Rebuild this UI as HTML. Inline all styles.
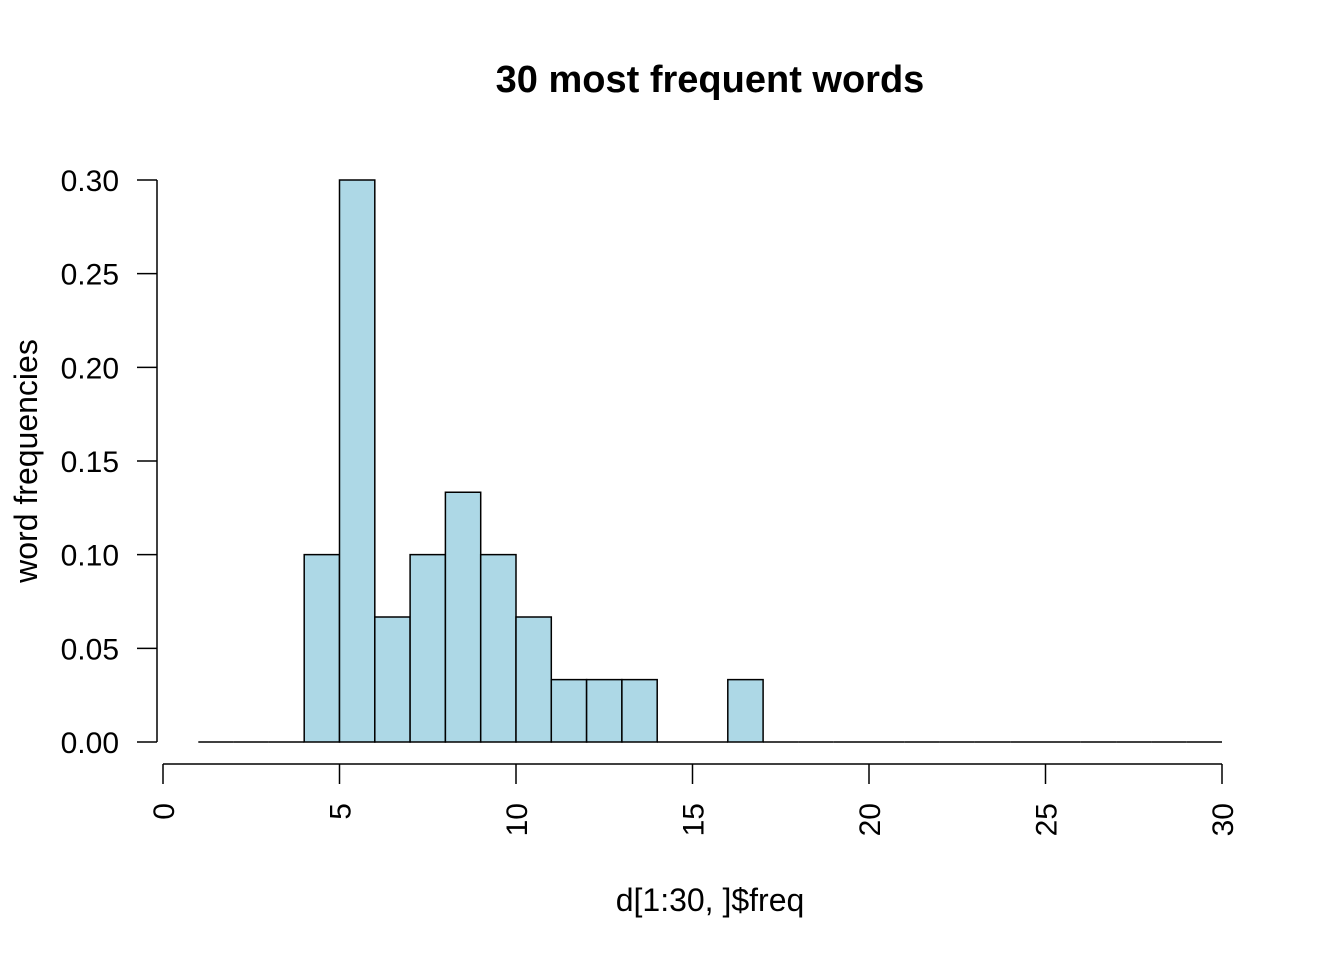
<!DOCTYPE html>
<html><head><meta charset="utf-8"><style>
html,body{margin:0;padding:0;background:#fff;}
svg{display:block;font-family:"Liberation Sans",sans-serif;}
</style></head><body>
<svg id="chart" width="1344" height="960" viewBox="0 0 1344 960">
<rect width="1344" height="960" fill="#fff"/>
<text x="710" y="92" text-anchor="middle" font-size="38" font-weight="bold">30 most frequent words</text>
<text x="710" y="911" text-anchor="middle" font-size="32">d[1:30, ]$freq</text>
<text transform="translate(37,461) rotate(-90)" text-anchor="middle" font-size="32">word frequencies</text>
<g id="bars"></g>
<g id="xaxis"></g>
<g id="yaxis"></g>
</svg>
<script>
const binStarts = [1,2,3,4,5,6,7,8,9,10,11,12,13,14,15,16,17,18,19,20,21,22,23,24,25,26,27,28,29];
const densities = [0,0,0,0.1,0.3,0.0667,0.1,0.1333,0.1,0.0667,0.0333,0.0333,0.0333,0,0,0.0333,0,0,0,0,0,0,0,0,0,0,0,0,0];
const xTicks = [0,5,10,15,20,25,30];
const yTicks = [0,0.05,0.10,0.15,0.20,0.25,0.30];
const yTickLabels = ["0.00","0.05","0.10","0.15","0.20","0.25","0.30"];
const NS="http://www.w3.org/2000/svg";
function xs(v){return 163+(v-0)*(1222-163)/30;}
function ys(v){return 742-v*(742-180)/0.30;}
function mk(t,a){const e=document.createElementNS(NS,t);for(const k in a)e.setAttribute(k,a[k]);return e;}
const bars=document.getElementById('bars');
binStarts.forEach((b,i)=>{
  const x0=xs(b),x1=xs(b+1),y=ys(densities[i]),y0=ys(0);
  const p=mk('path',{d:`M${x0},${y0}V${y}H${x1}V${y0}Z`,fill:'#add8e6',stroke:'#000','stroke-width':1.5});
  
  
  bars.appendChild(p);
});
const xa=document.getElementById('xaxis');
xa.appendChild(mk('line',{x1:xs(xTicks[0]),x2:xs(xTicks[xTicks.length-1]),y1:764,y2:764,stroke:'#000','stroke-width':1.5}));
xTicks.forEach(t=>{
  xa.appendChild(mk('line',{x1:xs(t),x2:xs(t),y1:764,y2:784,stroke:'#000','stroke-width':1.5}));
  const tx=mk('text',{transform:`translate(${xs(t)+11},803) rotate(-90)`,'text-anchor':'end','font-size':30});
  tx.textContent=t;
  
  
  xa.appendChild(tx);
});
const ya=document.getElementById('yaxis');
ya.appendChild(mk('line',{x1:157,x2:157,y1:ys(yTicks[0]),y2:ys(yTicks[yTicks.length-1]),stroke:'#000','stroke-width':1.5}));
yTicks.forEach((t,i)=>{
  ya.appendChild(mk('line',{x1:137,x2:157,y1:ys(t),y2:ys(t),stroke:'#000','stroke-width':1.5}));
  const tx=mk('text',{x:119,y:ys(t)+11,'text-anchor':'end','font-size':30});
  tx.textContent=yTickLabels[i];
  
  
  ya.appendChild(tx);
});
</script>
</body></html>
